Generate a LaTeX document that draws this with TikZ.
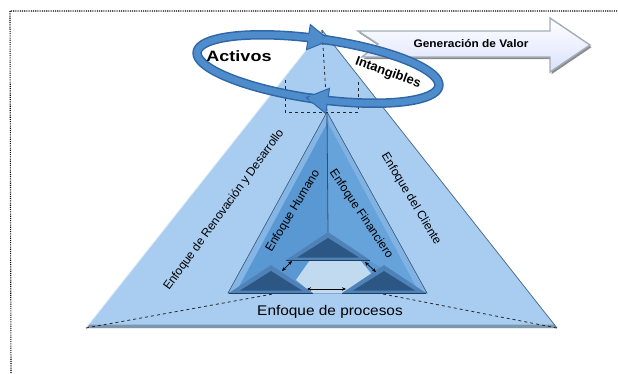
\documentclass[tikz,border=0pt]{standalone}
\usepackage{fontspec}
\setmainfont{Liberation Sans}
\usetikzlibrary{arrows.meta}
\definecolor{outerfill}{HTML}{A9CDF0}
\definecolor{outeredge}{HTML}{4F6F90}
\definecolor{basecol}{HTML}{7E95AE}
\definecolor{innerL}{HTML}{5A98D3}
\definecolor{innerR}{HTML}{66A3DA}
\definecolor{bevelc}{HTML}{84B6E5}
\definecolor{holec}{HTML}{C2DAF0}
\definecolor{dtriedge}{HTML}{4F83B8}
\definecolor{dtriface}{HTML}{2C5785}
\definecolor{ringc}{HTML}{4E8CCB}
\definecolor{ringdark}{HTML}{2F67A6}
\definecolor{arrowfill}{HTML}{E4F1FC}
\definecolor{arrowedge}{HTML}{A3ADB8}
\tikzset{
  lbl/.style={font=\fontsize{12}{14}\selectfont, inner sep=0pt},
  dbl/.style={{Stealth[length=4pt,width=3.5pt]}-{Stealth[length=4pt,width=3.5pt]}, line width=0.7pt, black},
  dline/.style={dashed, line width=0.8pt, black!85},
  ringout/.style={ringdark, line width=9.5pt, {Triangle[length=23pt,width=27pt,fill=ringc,line width=1pt]}-},
  ringin/.style={ringc, line width=6.5pt, shorten <=16pt},
  dtri/.pic={
    \fill[dtriedge] (0,0) -- (-42,28) -- (42,28) -- cycle;
    \fill[dtriface] (0,6) -- (-31,25.5) -- (31,25.5) -- cycle;
    \draw[dtriface!70!black, line width=0.8pt] (-42,28) -- (42,28);
  }
}
\begin{document}
\begin{tikzpicture}[x=1pt,y=-1pt]
\useasboundingbox (0,0) rectangle (618,373);
% frame
\draw[line width=1.1pt, dash pattern=on 1.1pt off 1.1pt] (11,373) -- (10,11) -- (618,11);

% outer pyramid
\coordinate (OA) at (322,30);
\coordinate (OL) at (86,328);
\coordinate (OR) at (557,328);
\fill[outerfill] (OA) -- (OL) -- (OR) -- cycle;
\fill[basecol] (89,324.5) -- (554,324.5) -- (OR) -- (OL) -- cycle;
\draw[outeredge, line width=0.8pt] (OA) -- (OR);
\draw[white!60!outerfill, line width=0.8pt] (OA) -- (OL);
\coordinate (BLi) at (273,294);
\coordinate (BRi) at (383,294);
\draw[dline] (OL) -- (BLi);
\draw[dline] (BRi) -- (OR);

\node[lbl, rotate=54] (tR) at (224,210) {Enfoque de Renovación y Desarrollo};
\node[lbl, rotate=-59] (tC) at (411,199) {Enfoque del Cliente};
\node[lbl, font=\fontsize{14}{16}\selectfont, xscale=1.1] (tP) at (330,312) {Enfoque de procesos};

% inner pyramid
\coordinate (IA) at (327,112);
\coordinate (IL) at (228,293);
\coordinate (IR) at (427,293);
\coordinate (IM) at (328,232);
\fill[innerL] (IA) -- (IL) -- (IR) -- cycle;
\fill[innerR] (IA) -- (IM) -- (368,260) -- (IR) -- cycle;
\fill[bevelc] (IA) -- (IL) -- (237,290) -- (326,125) -- cycle;
\fill[bevelc!85!innerR] (IA) -- (IR) -- (418,290) -- (329,125) -- cycle;
\draw[outeredge!80!black, line width=0.6pt] (IA) -- (IL) -- (IR) -- cycle;
\draw[outeredge!70!black, line width=0.8pt] (IA) -- (IM);
\fill[holec] (310,260) -- (360,260) -- (374,277) -- (343,293) -- (312,293) -- (296,280) -- cycle;
\pic at (IM) {dtri};
\pic at (271,265) {dtri};
\pic at (384,265) {dtri};
\coordinate (a1) at (282,271); \coordinate (a2) at (292,261);
\coordinate (b1) at (365,262); \coordinate (b2) at (376,272);
\coordinate (c1) at (307,289); \coordinate (c2) at (346,289);
\draw[dbl] (a1) -- (a2);
\draw[dbl] (b1) -- (b2);
\draw[dbl] (c1) -- (c2);

\node[lbl, rotate=59] (tH) at (293,211) {Enfoque Humano};
\node[lbl, rotate=-56] (tF) at (361,214) {Enfoque Financiero};

% dashed box
\draw[dline] (285,80) -- (285,112) -- (358,112) -- (358,80);
\draw[dline] (OA) -- (IA);

% generation arrow
\begin{scope}[shift={(1.5,2.2)}]
\fill[black!45] (358,31) -- (550,31) -- (550,18) -- (590,45) -- (550,72) -- (550,57) -- (362,57) -- (378,44) -- cycle;
\end{scope}
\draw[arrowedge, line width=1.4pt, top color=white, bottom color=arrowfill!85!blue!60!white]
  (358,31) -- (550,31) -- (550,18) -- (590,45) -- (550,72) -- (550,57) -- (362,57) -- (378,44) -- cycle;
\node[font=\bfseries\fontsize{11}{13}\selectfont, xscale=1.08] (gv) at (471,44) {Generación de Valor};

% ring
\draw[ringout] plot[domain=86:270, samples=90, variable=\t] ({318+120.8*cos(\t)+4.2*sin(\t)}, {69+17*cos(\t)-29.7*sin(\t)});
\draw[ringin] plot[domain=86:270, samples=90, variable=\t] ({318+120.8*cos(\t)+4.2*sin(\t)}, {69+17*cos(\t)-29.7*sin(\t)});
\draw[ringout] plot[domain=-94:90, samples=90, variable=\t] ({318+120.8*cos(\t)+4.2*sin(\t)}, {69+17*cos(\t)-29.7*sin(\t)});
\draw[ringin] plot[domain=-94:90, samples=90, variable=\t] ({318+120.8*cos(\t)+4.2*sin(\t)}, {69+17*cos(\t)-29.7*sin(\t)});

\node[font=\bfseries\fontsize{15}{17}\selectfont, xscale=1.2] (act) at (239,56) {Activos};
\node[font=\bfseries\fontsize{13}{15}\selectfont, rotate=-20] (int) at (388,73) {Intangibles};
\end{tikzpicture}
\end{document}
